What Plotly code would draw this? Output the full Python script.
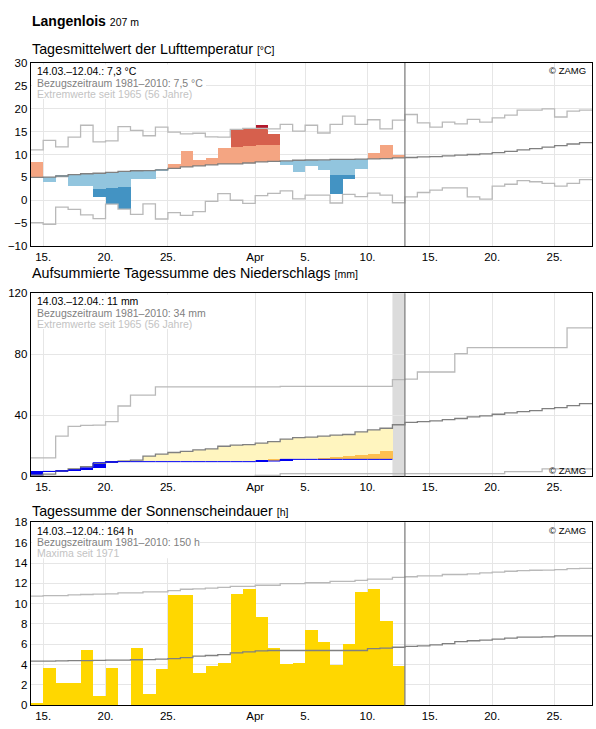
import pandas as pd
import plotly.graph_objects as go

# ---------------- data ----------------
START = "2021-03-14"
END = "2021-04-28"
N_DAYS = 45
NOW = "2021-04-13"
LAST_PREC_DAY = "2021-04-12"

tick_dates = ["2021-03-15", "2021-03-20", "2021-03-25", "2021-04-01", "2021-04-05",
              "2021-04-10", "2021-04-15", "2021-04-20", "2021-04-25"]
tick_text = ["15.", "20.", "25.", "Apr", "5.", "10.", "15.", "20.", "25."]

# Temperature (daily mean, °C)
temp_obs = [8.45, 3.95, 5.2, 3.15, 3.15, 0.8, -0.8, -1.85, 4.65, 4.65,
            6.6, 8.0, 10.75, 8.9, 9.3, 11.5, 15.5, 15.65, 16.4, 14.5,
            7.65, 6.15, 7.45, 6.65, 1.45, 4.65, 6.8, 10.4, 12.1, 9.95]
temp_mean = [5.0, 5.05, 5.3, 5.6, 5.8, 5.9, 6.1, 6.3, 6.45, 6.5,
             6.65, 6.95, 7.3, 7.5, 7.75, 7.95, 7.95, 8.15, 8.4, 8.5,
             8.6, 8.75, 8.8, 8.85, 8.95, 8.95, 9.0, 9.05, 9.1, 9.25,
             9.35, 9.5, 9.55, 9.7, 9.85, 10.0, 10.15, 10.4, 10.7, 11.0,
             11.3, 11.6, 11.95, 12.3, 12.6]
temp_max = [11.0, 13.1, 11.65, 13.8, 16.4, 12.75, 13.0, 16.1, 15.3, 14.1,
            16.0, 14.9, 14.5, 14.65, 13.85, 13.8, 15.5, 15.7, 15.7, 15.6,
            16.6, 15.1, 16.4, 14.7, 16.6, 18.4, 16.6, 17.6, 15.6, 17.5,
            18.75, 16.9, 16.0, 17.1, 16.7, 17.7, 17.1, 18.0, 18.6, 19.7,
            19.7, 20.0, 18.2, 19.5, 19.7]
temp_min = [-4.9, -5.25, -1.5, -2.0, -3.2, -4.0, -0.85, -1.95, -3.1, -0.8,
            -4.1, -2.7, -3.3, -2.5, -0.25, 1.45, 0.0, -0.7, 1.0, 1.5,
            2.05, 0.3, 1.1, 1.1, -0.6, 1.3, 0.8, 1.55, 1.1, -0.55,
            0.75, 1.7, 2.2, 2.7, 2.7, 0.75, 0.25, 3.1, 3.5, 4.3,
            4.05, 3.7, 3.1, 3.7, 4.5]
WARM_BAND = 3.6     # anomaly where light red turns into red
COLD_BAND = -3.45   # anomaly where light blue turns into blue

# Precipitation (mm)
prec_daily = [3.0, 0.1, 0.4, 0.5, 1.4, 3.4, 0.7, 0, 0, 0,
              0, 0, 0, 0, 0, 0, 0, 0, 0.4, 0,
              1.1, 0, 0, 0, 0, 0, 0, 0, 0]
prec_mean = [0.6, 1.3, 3.4, 4.7, 6.2, 8.4, 9.5, 9.9, 10.5, 13.1,
             14.4, 15.5, 16.3, 17.2, 17.9, 19.6, 20.4, 20.7, 21.7, 22.6,
             24.3, 25.2, 25.6, 26.2, 26.9, 27.3, 29.0, 30.3, 31.4, 33.7,
             35.2, 35.7, 36.3, 37.0, 37.8, 38.9, 39.5, 40.6, 41.5, 42.3,
             43.0, 44.3, 44.9, 46.2, 47.5]
prec_max = [12.0, 12.0, 26.2, 32.7, 33.3, 33.5, 35.7, 46.0, 53.1, 53.1,
            58.5, 58.5, 58.5, 58.5, 58.5, 58.5, 58.5, 58.5, 58.5, 58.5,
            58.9, 58.9, 58.9, 58.9, 58.9, 58.9, 58.9, 58.9, 58.9, 63.3,
            63.6, 68.3, 68.3, 68.3, 80.4, 84.3, 84.3, 84.3, 84.3, 84.3,
            84.3, 84.3, 84.3, 97.2, 97.2]
prec_min = [0, 0, 0, 0, 0, 0, 0, 0, 0, 0,
            0, 0, 0, 0, 0, 0, 0, 0, 0.5, 0.5,
            1.6, 1.6, 1.6, 1.6, 1.6, 1.6, 1.6, 1.6, 1.6, 1.6,
            1.6, 1.6, 1.6, 1.6, 1.6, 1.6, 1.6, 1.6, 2.9, 2.9,
            2.9, 4.8, 4.8, 4.8, 4.8]
prec_dry_top = [None, None, None, None, None, None, None, None, None, None,
                None, None, None, None, None, None, None, None, None, 10.6,
                None, None, None, 11.8, 12.35, 13.3, 13.85, 14.6, 16.1]

# Sunshine duration (h)
sun_obs = [0.2, 3.6, 2.15, 2.2, 5.45, 0.9, 3.6, 0.0, 5.6, 1.05,
           3.5, 10.85, 10.85, 3.1, 3.8, 4.15, 10.95, 11.4, 8.7, 5.6,
           4.05, 4.15, 7.35, 6.2, 3.95, 6.0, 11.15, 11.4, 8.3, 3.8]
sun_mean = [4.35, 4.35, 4.37, 4.4, 4.4, 4.42, 4.45, 4.45, 4.48, 4.5,
            4.55, 4.6, 4.7, 4.84, 4.9, 4.98, 5.16, 5.25, 5.36, 5.39,
            5.39, 5.39, 5.39, 5.39, 5.39, 5.39, 5.39, 5.58, 5.62, 5.71,
            5.8, 5.84, 5.94, 6.06, 6.26, 6.35, 6.42, 6.52, 6.61, 6.71,
            6.71, 6.74, 6.84, 6.84, 6.84]
sun_max = [10.74, 10.8, 10.8, 10.87, 10.9, 10.93, 10.97, 11.06, 11.06, 11.16,
           11.16, 11.29, 11.42, 11.45, 11.52, 11.6, 11.71, 11.71, 11.81, 11.81,
           11.97, 11.97, 12.06, 12.06, 12.19, 12.19, 12.29, 12.42, 12.42, 12.58,
           12.65, 12.74, 12.74, 12.87, 12.87, 12.94, 13.03, 13.1, 13.19, 13.26,
           13.29, 13.3, 13.35, 13.45, 13.48]

# ---------------- styles ----------------
W, H = 596, 729
FONT = "Liberation Sans, Arial, sans-serif"
GRID = "#e6e6e6"
MEAN_C = "#808080"
EXT_C = "#b9b9b9"
C_SALMON, C_RED, C_DRED = "#f4a582", "#d6604d", "#b2182b"
C_LBLUE, C_MBLUE, C_DBLUE = "#92c5de", "#4393c3", "#2166ac"
C_YELLOW, C_ORANGE, C_BLUE = "#fff5bf", "#fdbf50", "#0000f0"
C_SUN = "#ffd700"

days = pd.date_range(START, periods=N_DAYS, freq="D")
centers = days + pd.Timedelta(hours=12)
DAY_MS = 86400000


def step_xy(vals):
    n = len(vals)
    xs = list(days[:n]) + [days[0] + pd.Timedelta(days=n)]
    ys = list(vals) + [vals[-1]]
    return xs, ys


fig = go.Figure()


def add_bar(base, height, color, ax):
    n = len(height)
    fig.add_trace(go.Bar(x=list(centers[:n]), y=height, base=base, width=DAY_MS,
                         marker=dict(color=color, line=dict(width=0)),
                         xaxis="x" + ax, yaxis="y" + ax, hoverinfo="skip",
                         showlegend=False))


def add_step(vals, color, ax, width=1.3):
    xs, ys = step_xy(vals)
    fig.add_trace(go.Scatter(x=xs, y=ys, mode="lines", line=dict(color=color, width=width, shape="hv"),
                             xaxis="x" + ax, yaxis="y" + ax, hoverinfo="skip", showlegend=False))


# ---- panel 1: temperature ----
keys = ["s", "r", "dr", "lb", "mb", "db"]
bases = {k: [] for k in keys}
heights = {k: [] for k in keys}
for o, m, mx, mn in zip(temp_obs, temp_mean, temp_max, temp_min):
    segs = {}
    if o >= m:
        segs["s"] = (m, min(o, m + WARM_BAND))
        if o > m + WARM_BAND:
            segs["r"] = (m + WARM_BAND, min(o, mx))
        if o > mx:
            segs["dr"] = (mx, o)
    else:
        segs["lb"] = (max(o, m + COLD_BAND), m)
        if o < m + COLD_BAND:
            segs["mb"] = (max(o, mn), m + COLD_BAND)
        if o < mn:
            segs["db"] = (o, mn)
    for k in keys:
        if k in segs:
            lo, hi = segs[k]
            bases[k].append(lo)
            heights[k].append(hi - lo)
        else:
            bases[k].append(None)
            heights[k].append(None)
for k, c in zip(keys, [C_SALMON, C_RED, C_DRED, C_LBLUE, C_MBLUE, C_DBLUE]):
    add_bar(bases[k], heights[k], c, "")
add_step(temp_max, EXT_C, "")
add_step(temp_min, EXT_C, "")
add_step(temp_mean, MEAN_C, "")

# ---- panel 2: precipitation ----
prec_cum = []
tot = 0.0
for d in prec_daily:
    tot += d
    prec_cum.append(round(tot, 2))
n_p = len(prec_cum)
yb, yh, ob, oh, bb, bh = [], [], [], [], [], []
for i in range(n_p):
    o, m = prec_cum[i], prec_mean[i]
    if m > o:
        yb.append(o); yh.append(m - o)
    else:
        yb.append(None); yh.append(None)
    t = prec_dry_top[i]
    if t is not None and t > o:
        ob.append(o); oh.append(t - o)
    else:
        ob.append(None); oh.append(None)
    if prec_daily[i] > 0:
        bb.append(o - prec_daily[i]); bh.append(prec_daily[i])
    else:
        bb.append(None); bh.append(None)
add_bar(yb, yh, C_YELLOW, "2")
add_bar(ob, oh, C_ORANGE, "2")
add_bar(bb, bh, C_BLUE, "2")
add_step(prec_max, EXT_C, "2")
add_step(prec_min, EXT_C, "2")
add_step(prec_mean, MEAN_C, "2")
add_step(prec_cum, C_BLUE, "2", width=1.0)

# ---- panel 3: sunshine ----
add_bar([0] * len(sun_obs), sun_obs, C_SUN, "3")
add_step(sun_max, EXT_C, "3")
add_step(sun_mean, MEAN_C, "3")

# ---------------- layout ----------------
X_DOM = [30.7 / W, 592 / W]
panels = {"": (58, 244, [-10, 30], 5), "2": (292, 478, [0, 120], 40), "3": (525, 711, [0, 18], 2)}
tick_font = dict(family=FONT, size=11.5, color="black")
layout = dict(width=W, height=H, margin=dict(l=0, r=0, t=0, b=0),
              paper_bgcolor="white", plot_bgcolor="white", barmode="overlay",
              bargap=0, showlegend=False, hovermode=False)
for ax, (top, bot, rng, dt) in panels.items():
    layout["xaxis" + ax] = dict(domain=X_DOM, anchor="y" + ax, type="date", range=[START, END],
                                tickmode="array", tickvals=tick_dates, ticktext=tick_text,
                                showgrid=True, gridcolor=GRID, gridwidth=1, showline=True,
                                linecolor="black", linewidth=1, mirror=True, ticks="",
                                tickfont=tick_font, zeroline=False, fixedrange=True)
    layout["yaxis" + ax] = dict(domain=[1 - bot / H, 1 - top / H], anchor="x" + ax, range=rng,
                                dtick=dt, tick0=rng[0], showgrid=True, gridcolor=GRID, gridwidth=1,
                                showline=True, linecolor="black", linewidth=1, mirror=True,
                                ticks="", tickfont=tick_font, zeroline=False, fixedrange=True)
fig.update_layout(**layout)


def px(X):
    return X / W


def py(Y):
    return 1 - Y / H


shapes = [dict(type="rect", xref="x2", yref="paper", x0=LAST_PREC_DAY, x1=NOW,
               y0=py(478), y1=py(292), fillcolor="#dcdcdc", line=dict(width=0), layer="below")]
for ax in ["", "2", "3"]:
    shapes.append(dict(type="line", xref="x" + ax, yref="y" + ax + " domain", x0=NOW, x1=NOW,
                       y0=0, y1=1, line=dict(color=MEAN_C, width=1.3), layer="above"))
# white boxes behind the info texts
info_box_w = [206, 210, 200]
for top, wbox in zip([58, 292, 525], info_box_w):
    shapes.append(dict(type="rect", xref="paper", yref="paper", x0=px(32), x1=px(wbox),
                       y0=py(top + 36.5), y1=py(top + 1.5), fillcolor="white",
                       line=dict(width=0), layer="above"))
fig.update_layout(shapes=shapes)

ann = []


def text(X, Y, s, size, color="black", xanchor="left"):
    ann.append(dict(x=px(X), y=py(Y), xref="paper", yref="paper", text=s, showarrow=False,
                    xanchor=xanchor, yanchor="middle", align="left",
                    font=dict(family=FONT, size=size, color=color)))


text(30, 15, "<b>Langenlois</b> <span style='font-size:10.5px'>207 m</span>", 14)
titles = [(44, "Tagesmittelwert der Lufttemperatur", "[°C]"),
          (271, "Aufsummierte Tagessumme des Niederschlags", "[mm]"),
          (513, "Tagessumme der Sonnenscheindauer", "[h]")]
for Y, t, u in titles:
    text(30, Y, t + " <span style='font-size:10.5px'>" + u + "</span>", 14.3)

info = [(58, ["14.03.–12.04.: 7,3 °C", "Bezugszeitraum 1981–2010: 7,5 °C", "Extremwerte seit 1965 (56 Jahre)"]),
        (292, ["14.03.–12.04.: 11 mm", "Bezugszeitraum 1981–2010: 34 mm", "Extremwerte seit 1965 (56 Jahre)"]),
        (525, ["14.03.–12.04.: 164 h", "Bezugszeitraum 1981–2010: 150 h", "Maxima seit 1971"])]
for top, lines in info:
    for j, (s, c) in enumerate(zip(lines, ["black", "#808080", "#c3c3c3"])):
        text(34.5, top + 8.3 + 11.5 * j, s, 10.5, c)

for Y in [65.5, 472.5, 533.5]:
    text(588, Y, "© ZAMG", 9.5, "black", xanchor="right")

fig.update_layout(annotations=ann)
fig.write_html("out.html")
